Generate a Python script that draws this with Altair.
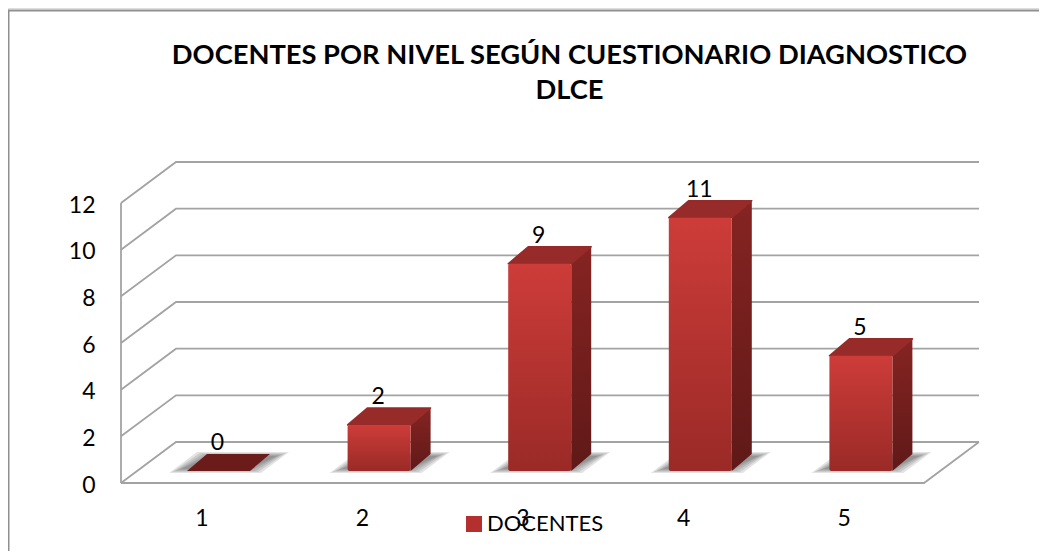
import altair as alt
import pandas as pd

# ---- values
niveles = [1, 2, 3, 4, 5]
docentes = [0, 2, 9, 11, 5]
y_ticks = [0, 2, 4, 6, 8, 10, 12]
serie = "DOCENTES"
titulo = ["DOCENTES POR NIVEL SEGÚN CUESTIONARIO DIAGNOSTICO", "DLCE"]

# ---- layout of the oblique projection
W, H = 1031, 543
X_RANGE = [113, 916]
Y_RANGE = [475, 195]
PX = (X_RANGE[1] - X_RANGE[0]) / 5      # pixels per category
PY = (Y_RANGE[0] - Y_RANGE[1]) / 12     # pixels per unit
WALL_DX, WALL_DY = 55 / PX, 41 / PY     # depth of the floor
BAR_DX, BAR_DY = 17.2 / PX, 12 / PY     # front plane of the bars
DEPTH_DX, DEPTH_DY = 20 / PX, 17 / PY   # depth of a bar
BAR_W = 63 / PX
BAR_K = 0.987                           # foreshortening of bar height
FONT = "Lato"
GRID = "#a3a3a3"
SHADOW_INSETS = [0, 3, 6, 9, 12]


def para(rows, key, xl, xr, yb, yt, s):
    """Parallelogram as an area outline, x in data units."""
    rows += [
        dict(id=key, x=xl, y=yb, y2=yb),
        dict(id=key, x=xl + s, y=yb, y2=yt),
        dict(id=key, x=xr, y=yb, y2=yt),
        dict(id=key, x=xr + s, y=yt, y2=yt),
    ]


front, side, top, labels = [], [], [], []
shadow = {k: [] for k in range(len(SHADOW_INSETS))}
for n, v in zip(niveles, docentes):
    l = n + BAR_DX - BAR_W / 2
    r = l + BAR_W
    y0 = BAR_DY
    t = y0 + v * BAR_K
    front.append(dict(l=l, r=r, y0=y0, t=t))
    side += [dict(id=n, x=r, y=y0, y2=t),
             dict(id=n, x=r + DEPTH_DX, y=y0 + DEPTH_DY, y2=t + DEPTH_DY)]
    rows = []
    para(rows, n, l, r, t, t + DEPTH_DY, DEPTH_DX)
    for row in rows:
        row["v"] = v
    top += rows
    labels.append(dict(x=(l + r) / 2, y=t, v=v))
    for k, inset in enumerate(SHADOW_INSETS):
        para(shadow[k], n,
             l + (inset - 18) / PX, r + (11 - inset) / PX,
             y0 + (inset / 3 - 2) / PY, y0 + (19 - inset / 3) / PY, 28 / PX)

grid = []
for v in y_ticks:
    grid += [dict(id=v, i=0, x=0.5, y=v),
             dict(id=v, i=1, x=0.5 + WALL_DX, y=v + WALL_DY),
             dict(id=v, i=2, x=5.5 + WALL_DX, y=v + WALL_DY)]
grid += [dict(id="pared", i=0, x=0.5, y=0), dict(id="pared", i=1, x=0.5, y=12)]
grid += [dict(id="piso", i=0, x=0.5, y=0), dict(id="piso", i=1, x=5.5, y=0),
         dict(id="piso", i=2, x=5.5 + WALL_DX, y=WALL_DY)]

xs = alt.Scale(domain=[0.5, 5.5], range=X_RANGE, nice=False, zero=False)
ys = alt.Scale(domain=[0, 12], range=Y_RANGE, nice=False, zero=False)
ax_x = alt.Axis(
    values=niveles, title=None, domain=False, ticks=False, grid=False, format="d",
    labelFont=FONT, labelFontSize=23, labelColor="#000000", labelPadding=24,
    offset=-(H - Y_RANGE[0]), labelFlush=False, labelOverlap=False)
ax_y = alt.Axis(
    values=y_ticks, title=None, domain=False, ticks=False, grid=False, format="d",
    labelFont=FONT, labelFontSize=23, labelColor="#000000", labelPadding=26, labelOffset=2,
    offset=-X_RANGE[0], labelOverlap=False)


def X(f):
    return alt.X(f, type="quantitative", scale=xs, axis=ax_x)


def Y(f):
    return alt.Y(f, type="quantitative", scale=ys, axis=ax_y, stack=None)


def grad(a, b):
    return alt.LinearGradient(
        gradient="linear", x1=0, x2=0, y1=0, y2=1,
        stops=[alt.GradientStop(color=a, offset=0), alt.GradientStop(color=b, offset=1)],
    )


frame_left = alt.Chart(pd.DataFrame({"a": [0]})).mark_rule(color="#8f8f8f", strokeWidth=2).encode(
    x=alt.value(0.5), y=alt.value(2), y2=alt.value(H))
frame_top = alt.Chart(pd.DataFrame({"a": [0]})).mark_rule(color="#8f8f8f", strokeWidth=2).encode(
    x=alt.value(0), x2=alt.value(W), y=alt.value(2.5))

legend_l = alt.Chart(pd.DataFrame({"x": niveles, "y": [0] * 5, "serie": [serie] * 5})).mark_square(
    opacity=0, size=1
).encode(
    x=X("x"), y=Y("y"),
    color=alt.Color("serie:N", scale=alt.Scale(domain=[serie], range=["#b3302e"]), legend=alt.Legend(
        title=None, orient="none", legendX=455, legendY=505, symbolType="square",
        symbolSize=256, symbolOpacity=1, symbolStrokeWidth=0,
        labelFont=FONT, labelFontSize=22, labelColor="#000000", labelOffset=2)),
)

lines = alt.Chart(pd.DataFrame(grid)).mark_line(color=GRID, strokeWidth=1.8).encode(
    x=X("x"), y=Y("y"), detail="id:N", order="i:Q")

shadows = [
    alt.Chart(pd.DataFrame(shadow[k])).mark_area(orient="vertical", color="#3a3a3a", opacity=0.14).encode(
        x=X("x"), y=Y("y"), y2=alt.Y2("y2"), detail="id:N")
    for k in shadow
]

side_l = alt.Chart(pd.DataFrame(side)).mark_area(
    orient="vertical", color=grad("#862422", "#5f1918")
).encode(x=X("x"), y=Y("y"), y2=alt.Y2("y2"), detail="id:N")

top_df = pd.DataFrame(top)
top_l = alt.Chart(top_df[top_df.v > 0]).mark_area(
    orient="vertical", color="#962b29", line=False, stroke="#962b29", strokeWidth=1.5, strokeJoin="round"
).encode(x=X("x"), y=Y("y"), y2=alt.Y2("y2"), detail="id:N")
top_zero = alt.Chart(top_df[top_df.v == 0]).mark_area(orient="vertical", color="#6a1b1a").encode(
    x=X("x"), y=Y("y"), y2=alt.Y2("y2"), detail="id:N")

front_l = alt.Chart(pd.DataFrame(front)).mark_rect(
    color=grad("#cd3c39", "#9a2a27"), cornerRadius=2
).encode(x=X("l"), x2=alt.X2("r"), y=Y("y0"), y2=alt.Y2("t"))

text_l = alt.Chart(pd.DataFrame(labels)).mark_text(
    font=FONT, fontSize=23, color="#000000", dx=-1, dy=-28
).encode(x=X("x"), y=Y("y"), text=alt.Text("v:Q", format="d"))

chart = alt.layer(
    legend_l, frame_left, frame_top, lines, *shadows, side_l, top_l, top_zero, front_l, text_l
).properties(
    width=W, height=H, padding=0,
    autosize=alt.AutoSizeParams(type="none"),
    title=alt.TitleParams(
        text=titulo, font=FONT, fontSize=27.3, fontWeight="bold", color="#000000",
        anchor="middle", dx=46, offset=-96, lineHeight=35),
).configure_view(stroke=None).configure(background="#ffffff")

chart.save("out.html", embed_options={"renderer": "svg", "actions": False})
